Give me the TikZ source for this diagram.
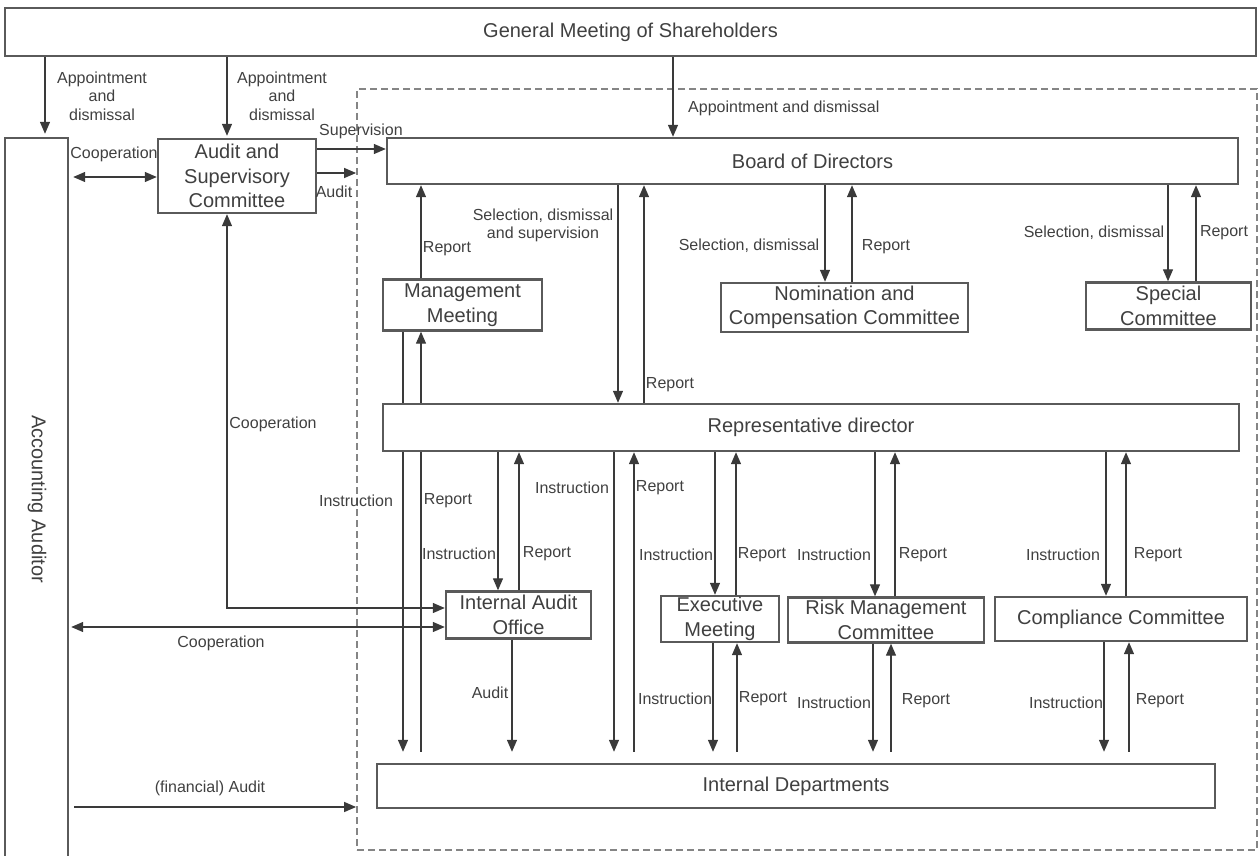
\documentclass[tikz,border=0pt]{standalone}
\usepackage{fontspec}
\setmainfont{Liberation Sans}
\usetikzlibrary{arrows.meta,backgrounds}
\definecolor{lnc}{HTML}{3A3A3A}
\definecolor{bxc}{HTML}{5A5A5A}
\definecolor{txc}{HTML}{404040}
\definecolor{dshc}{HTML}{858585}
\begin{document}
\begin{tikzpicture}[x=1pt,y=-1pt,
  box/.style={draw=bxc,line width=2.4pt,fill=white,inner sep=0pt,text=txc,font=\fontsize{20}{24.5}\selectfont,align=center},
  lbl/.style={text=txc,font=\fontsize{16}{18.5}\selectfont,inner sep=0pt,align=center},
  arr/.style={draw=lnc,line width=1.3pt,-{Triangle[length=12pt,width=10pt]}},
  darr/.style={draw=lnc,line width=1.3pt,{Triangle[length=12pt,width=10pt]}-{Triangle[length=12pt,width=10pt]}},
  grp/.style={draw=dshc,line width=1.8pt,dash pattern=on 7pt off 4pt,inner sep=0pt}
]
\useasboundingbox (0,0) rectangle (1259,856);
\clip (0,0) rectangle (1259,856);

% boxes
\node[grp,minimum width=900,minimum height=761] (group) at (807,469.5) {};
\node[box,minimum width=1251,minimum height=48] (gm) at (630.5,32) {General Meeting of Shareholders};
\node[box,minimum width=63,minimum height=762] (aa) at (36.5,519) {};
\node[lbl,rotate=-90,font=\fontsize{20}{24}\selectfont] (aatext) at (37,499) {Accounting Auditor};
\node[box,minimum width=158,minimum height=74] (asc) at (237,176) {Audit and\\Supervisory\\Committee};
\node[box,minimum width=851,minimum height=46] (board) at (812.5,161) {Board of Directors};
\node[box,minimum width=159,minimum height=51] (mm) at (462.5,305) {Management\\Meeting};
\node[box,minimum width=247,minimum height=49] (ncc) at (844.5,307.5) {Nomination and\\Compensation Committee};
\node[box,minimum width=165,minimum height=47] (sc) at (1168.5,306) {Special\\Committee};
\node[box,minimum width=856,minimum height=47] (rep) at (811,427.5) {Representative director};
\node[box,minimum width=145,minimum height=47] (iao) at (518.5,615) {Internal Audit\\Office};
\node[box,minimum width=118,minimum height=46] (em) at (720,619) {Executive\\Meeting};
\node[box,minimum width=196,minimum height=45] (rmc) at (886,620) {Risk Management\\Committee};
\node[box,minimum width=252,minimum height=44] (cc) at (1121,619) {Compliance Committee};
\node[box,minimum width=838,minimum height=44] (id) at (796,786) {Internal Departments};

% connectors behind boxes
\begin{scope}[on background layer]
\draw[arr,shorten >=11pt] (mm.south -| 403,0) -- (id.north -| 403,0);
\draw[arr,shorten <=11pt] (id.north -| 421,0) -- (mm.south -| 421,0);
\end{scope}

% connectors
\draw[arr,shorten >=3pt] (gm.south -| 45,0) -- (aa.north -| 45,0);
\draw[arr,shorten >=2pt] (gm.south -| 227,0) -- (asc.north -| 227,0);
\draw[arr] (gm.south -| 673,0) -- (board.north -| 673,0);
\draw[darr,shorten <=4pt] (aa.east |- 0,177) -- (asc.west |- 0,177);
\draw[arr] (asc.east |- 0,149) -- (board.west |- 0,149);
\draw[arr] (asc.east |- 0,173) -- (group.west |- 0,173);
\draw[arr] (mm.north -| 421,0) -- (board.south -| 421,0);
\draw[arr] (board.south -| 618,0) -- (rep.north -| 618,0);
\draw[arr] (rep.north -| 644,0) -- (board.south -| 644,0);
\draw[arr] (board.south -| 825,0) -- (ncc.north -| 825,0);
\draw[arr] (ncc.north -| 852,0) -- (board.south -| 852,0);
\draw[arr] (board.south -| 1168,0) -- (sc.north -| 1168,0);
\draw[arr] (sc.north -| 1196,0) -- (board.south -| 1196,0);
\draw[arr] (rep.south -| 498,0) -- (iao.north -| 498,0);
\draw[arr] (iao.north -| 519,0) -- (rep.south -| 519,0);
\draw[arr,shorten >=11pt] (rep.south -| 614,0) -- (id.north -| 614,0);
\draw[arr,shorten <=11pt] (id.north -| 634,0) -- (rep.south -| 634,0);
\draw[arr] (rep.south -| 715,0) -- (em.north -| 715,0);
\draw[arr] (em.north -| 736,0) -- (rep.south -| 736,0);
\draw[arr,shorten >=11pt] (em.south -| 713,0) -- (id.north -| 713,0);
\draw[arr,shorten <=11pt] (id.north -| 737,0) -- (em.south -| 737,0);
\draw[arr] (rep.south -| 875,0) -- (rmc.north -| 875,0);
\draw[arr] (rmc.north -| 895,0) -- (rep.south -| 895,0);
\draw[arr,shorten >=11pt] (rmc.south -| 873,0) -- (id.north -| 873,0);
\draw[arr,shorten <=11pt] (id.north -| 891,0) -- (rmc.south -| 891,0);
\draw[arr] (rep.south -| 1106,0) -- (cc.north -| 1106,0);
\draw[arr] (cc.north -| 1126,0) -- (rep.south -| 1126,0);
\draw[arr,shorten >=11pt] (cc.south -| 1104,0) -- (id.north -| 1104,0);
\draw[arr,shorten <=11pt] (id.north -| 1129,0) -- (cc.south -| 1129,0);
\draw[arr,shorten >=11pt] (iao.south -| 512,0) -- (id.north -| 512,0);
\draw[darr] (asc.south -| 227,0) |- (iao.west |- 0,608);
\draw[darr,shorten <=2pt] (aa.east |- 0,627) -- (iao.west |- 0,627);
\draw[arr,shorten <=5pt] (aa.east |- 0,807) -- (group.west |- 0,807);

% labels
\node[lbl] (l1) at (102,96) {Appointment\\and\\dismissal};
\node[lbl] (l2) at (282,96) {Appointment\\and\\dismissal};
\node[lbl] (l3) at (361,131) {Supervision};
\node[lbl] (l4) at (114,154) {Cooperation};
\node[lbl] (l5) at (334,192) {Audit};
\node[lbl,anchor=west] (l6) at (688,108) {Appointment and dismissal};
\node[lbl] (l7) at (447,249) {Report};
\node[lbl,font=\fontsize{16}{18}\selectfont] (l8) at (543,225) {Selection, dismissal\\and supervision};
\node[lbl] (l9) at (749,246) {Selection, dismissal};
\node[lbl] (l10) at (886,247) {Report};
\node[lbl] (l11) at (1094,233) {Selection, dismissal};
\node[lbl] (l12) at (1224,233) {Report};
\node[lbl] (l13) at (670,385) {Report};
\node[lbl] (l14) at (273,424) {Cooperation};
\node[lbl] (l15) at (356,501) {Instruction};
\node[lbl] (l16) at (448,501) {Report};
\node[lbl] (l17) at (572,488) {Instruction};
\node[lbl] (l18) at (660,488) {Report};
\node[lbl] (l19) at (459,554) {Instruction};
\node[lbl] (l20) at (547,554) {Report};
\node[lbl] (l21) at (676,555) {Instruction};
\node[lbl] (l22) at (762,555) {Report};
\node[lbl] (l23) at (834,555) {Instruction};
\node[lbl] (l24) at (923,555) {Report};
\node[lbl] (l25) at (1063,555) {Instruction};
\node[lbl] (l26) at (1158,555) {Report};
\node[lbl] (l27) at (221,643) {Cooperation};
\node[lbl] (l28) at (490,693) {Audit};
\node[lbl] (l29) at (675,699) {Instruction};
\node[lbl] (l30) at (763,699) {Report};
\node[lbl] (l31) at (834,703) {Instruction};
\node[lbl] (l32) at (926,701) {Report};
\node[lbl] (l33) at (1066,703) {Instruction};
\node[lbl] (l34) at (1160,701) {Report};
\node[lbl] (l35) at (210,788) {(financial) Audit};
\end{tikzpicture}
\end{document}
